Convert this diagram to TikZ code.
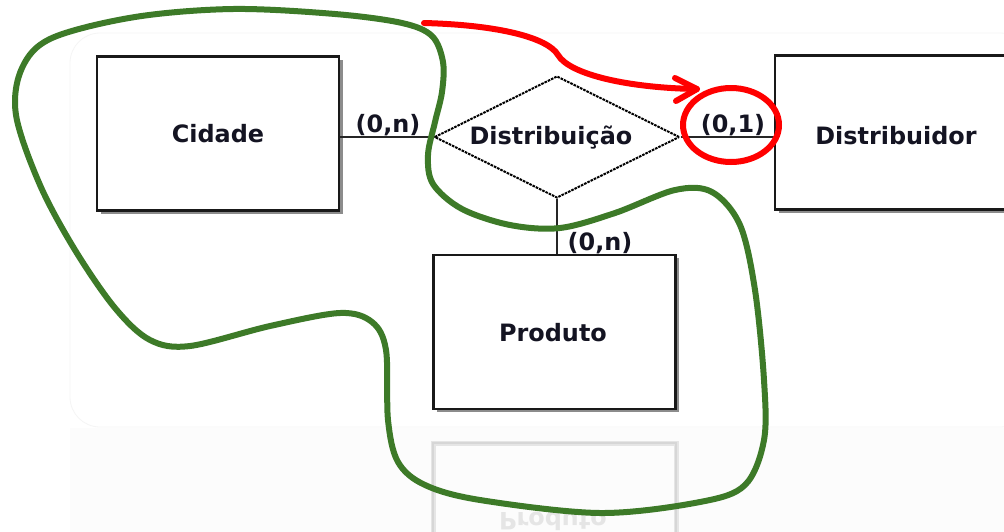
\documentclass[tikz,border=0pt]{standalone}
\usepackage{fontspec}
\setmainfont{DejaVu Sans}
\usetikzlibrary{shapes.geometric}
\definecolor{inkdark}{HTML}{141422}
\definecolor{lasso}{HTML}{3D7A28}
\definecolor{marker}{HTML}{FF0000}
\tikzset{
  ertext/.style={font=\fontsize{23.9}{28}\selectfont\bfseries, text=inkdark, inner sep=0pt},
  entity/.style={draw=black!90, line width=2.4pt, fill=white, minimum width=242pt, minimum height=154pt, inner sep=0pt},
  shadowbox/.style={fill=black!45, minimum width=242pt, minimum height=154pt, inner sep=0pt},
  reldiamond/.style={diamond, draw=black, line width=2pt, dash pattern=on 2.6pt off 1pt, minimum width=245pt, minimum height=122pt, inner sep=0pt},
  link/.style={draw=black!85, line width=2.2pt},
  card/.style={ertext, anchor=base},
  lassoline/.style={draw=lasso, line width=6pt, line join=round},
  markline/.style={draw=marker, line width=6pt, line cap=round, line join=round},
}
\begin{document}
\begin{tikzpicture}[x=1pt, y=-1pt]
\useasboundingbox (0,0) rectangle (1004,531);
\fill[white] (0,0) rectangle (1004,531);

% faint panel and its reflection floor
\draw[black!4, line width=0.8pt, rounded corners=30pt] (70,33) rectangle (1030,427);
\fill[black!1] (70,428) rectangle (1030,600);

% mirrored Produto box below the panel
\draw[black!10, line width=5pt] (433,443) rectangle (676,600);
\draw[black!16, line width=2pt] (433,443) rectangle (676,600);
\node[ertext, text=black!10, yscale=-1] (prodref) at (553,521) {Produto};

% entity shadows
\node[shadowbox] (cidsh) at (221.5,136.5) {};
\node[shadowbox] (dissh) at (899.5,135.5) {};
\node[shadowbox] (prodsh) at (557.5,335) {};

% entities
\node[entity] (cid) at (218,133.5) {};
\node[entity] (dis) at (896,132.5) {};
\node[entity] (prod) at (554.5,332) {};
\node[ertext] (cidt) at (cid.center) {Cidade};
\node[ertext] (dist) at (896,136) {Distribuidor};
\node[ertext] (prodt) at (553,333) {Produto};

% relationship
\node[reldiamond, fill=white] (rel) at (557,137) {};
\node[ertext] (relt) at (551,138) {Distribuição};

% connectors
\draw[link] (rel.west) -- (rel.west -| cid.east);
\draw[link] (rel.east) -- (rel.east -| dis.west);
\draw[link] (rel.south) -- (rel.south |- prod.north);

% cardinalities
\node[card] (c1) at (388,132) {(0,n)};
\node[card] (c2) at (733,132) {(0,1)};
\node[card] (c3) at (600,250) {(0,n)};

% green lasso around Cidade, Distribuicao and Produto
\draw[lassoline] plot[smooth cycle, tension=0.55] coordinates {
  (233,9) (335,14) (402,23) (432,36) (443,62) (442,92) (435,122) (428,155)
  (433,184) (462,209) (510,225) (560,228) (615,213) (675,190) (712,192)
  (740,225) (755,290) (764,380) (764,440) (745,485) (700,502) (600,513)
  (480,500) (425,485) (398,462) (388,420) (386,350) (372,322) (340,313)
  (270,326) (190,346) (150,340) (115,308) (75,250) (40,185) (16,115)
  (22,68) (52,38) (135,17)};

% red highlight of the (0,1) cardinality
\coordinate (redstart) at (424,23);
\coordinate (redtip) at (697,89);
\draw[markline] (redstart) .. controls (500,25) and (548,38) .. (558,55)
  .. controls (570,75) and (630,88) .. (redtip);
\draw[markline] (675,78) -- (redtip) -- (676,101);
\draw[markline] (731,125) ellipse (48pt and 37pt);
\end{tikzpicture}
\end{document}
